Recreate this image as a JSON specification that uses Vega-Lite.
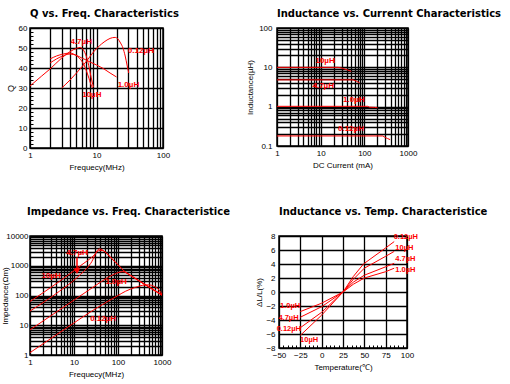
{
  "$schema": "https://vega.github.io/schema/vega-lite/v6.json",
  "background": "white",
  "padding": {"left": 0, "top": 8, "right": 0, "bottom": 0},
  "spacing": 34,
  "config": {
    "font": "Liberation Sans",
    "view": {"stroke": "black", "strokeWidth": 1.5},
    "axis": {
      "labelFont": "Liberation Sans", "labelFontSize": 8, "labelColor": "black",
      "titleFont": "Liberation Sans", "titleFontSize": 8, "titleFontWeight": "normal", "titleColor": "black",
      "domain": false, "gridColor": "black", "gridOpacity": 1, "gridWidth": 1.3,
      "tickColor": "black", "labelOverlap": false, "labelFlush": false, "ticks": false, "labelPadding": 3, "titlePadding": 4
    },
    "title": {"font": "DejaVu Sans", "fontSize": 10, "fontWeight": "bold", "anchor": "start", "color": "black", "frame": "group"},
    "text": {"font": "Liberation Sans", "fontSize": 8, "fontWeight": "bold", "color": "red", "align": "left", "baseline": "middle"},
    "line": {"color": "red", "strokeWidth": 1}
  },
  "datasets": {
    "q": [
      {"s": "4.7", "f": 1, "q": 31}, {"s": "4.7", "f": 1.5, "q": 36}, {"s": "4.7", "f": 2, "q": 39.5}, {"s": "4.7", "f": 3, "q": 45}, {"s": "4.7", "f": 4, "q": 48.2}, {"s": "4.7", "f": 5, "q": 49.8}, {"s": "4.7", "f": 5.7, "q": 50.3}, {"s": "4.7", "f": 6.5, "q": 48.5}, {"s": "4.7", "f": 7.3, "q": 44}, {"s": "4.7", "f": 8, "q": 38}, {"s": "4.7", "f": 8.6, "q": 33}, {"s": "4.7", "f": 9, "q": 30.5},
      {"s": "10", "f": 2, "q": 44.5}, {"s": "10", "f": 2.5, "q": 46}, {"s": "10", "f": 3, "q": 46.8}, {"s": "10", "f": 4, "q": 47.5}, {"s": "10", "f": 4.5, "q": 47}, {"s": "10", "f": 5.5, "q": 45}, {"s": "10", "f": 6.5, "q": 41.5}, {"s": "10", "f": 7.5, "q": 36}, {"s": "10", "f": 8.3, "q": 31.5}, {"s": "10", "f": 8.7, "q": 30},
      {"s": "1.0", "f": 2, "q": 42.5}, {"s": "1.0", "f": 2.5, "q": 44.5}, {"s": "1.0", "f": 3, "q": 45.8}, {"s": "1.0", "f": 4, "q": 47}, {"s": "1.0", "f": 5, "q": 46.3}, {"s": "1.0", "f": 6, "q": 45}, {"s": "1.0", "f": 7, "q": 44}, {"s": "1.0", "f": 8, "q": 43}, {"s": "1.0", "f": 10, "q": 41.5}, {"s": "1.0", "f": 13, "q": 39.5}, {"s": "1.0", "f": 16, "q": 37.5}, {"s": "1.0", "f": 20, "q": 35.5},
      {"s": "0.12", "f": 3, "q": 30}, {"s": "0.12", "f": 4, "q": 34}, {"s": "0.12", "f": 5, "q": 37.5}, {"s": "0.12", "f": 6, "q": 40.5}, {"s": "0.12", "f": 7.3, "q": 44}, {"s": "0.12", "f": 9, "q": 48}, {"s": "0.12", "f": 11, "q": 51}, {"s": "0.12", "f": 13, "q": 53}, {"s": "0.12", "f": 16, "q": 54.8}, {"s": "0.12", "f": 19, "q": 55.3}, {"s": "0.12", "f": 21, "q": 54.5}, {"s": "0.12", "f": 23, "q": 52.5}, {"s": "0.12", "f": 25, "q": 50}, {"s": "0.12", "f": 27, "q": 46}, {"s": "0.12", "f": 29, "q": 41}, {"s": "0.12", "f": 30.5, "q": 37.5}
    ],
    "ql": [
      {"label": "4.7µH", "f": 4.05, "q": 53},
      {"label": "0.12µH", "f": 29.6, "q": 48.7},
      {"label": "1.0µH", "f": 20.8, "q": 31.7},
      {"label": "10µH", "f": 6.1, "q": 26.7}
    ],
    "l": [
      {"s": "10", "i": 1, "l": 10}, {"s": "10", "i": 25, "l": 10}, {"s": "10", "i": 30, "l": 9.6}, {"s": "10", "i": 40, "l": 8.7}, {"s": "10", "i": 50, "l": 7.9},
      {"s": "4.7", "i": 1, "l": 4.8}, {"s": "4.7", "i": 55, "l": 4.8}, {"s": "4.7", "i": 65, "l": 4.5}, {"s": "4.7", "i": 78, "l": 4.0},
      {"s": "1.0", "i": 1, "l": 1.02}, {"s": "1.0", "i": 120, "l": 1.02}, {"s": "1.0", "i": 130, "l": 0.97}, {"s": "1.0", "i": 170, "l": 0.96}, {"s": "1.0", "i": 200, "l": 0.94},
      {"s": "0.12", "i": 1, "l": 0.18}, {"s": "0.12", "i": 265, "l": 0.18}, {"s": "0.12", "i": 300, "l": 0.165}, {"s": "0.12", "i": 340, "l": 0.155}, {"s": "0.12", "i": 390, "l": 0.145}
    ],
    "ll": [
      {"label": "10µH", "i": 7.6, "l": 14.3},
      {"label": "4.7µH", "i": 6.5, "l": 3.3},
      {"label": "1.0µH", "i": 32.4, "l": 1.44},
      {"label": "0.12µH", "i": 24.9, "l": 0.277}
    ],
    "z": [
      {"s": "10", "f": 1, "z": 63}, {"s": "10", "f": 4.7, "z": 300}, {"s": "10", "f": 14, "z": 1000}, {"s": "10", "f": 29, "z": 2300}, {"s": "10", "f": 36, "z": 3200}, {"s": "10", "f": 44, "z": 3250}, {"s": "10", "f": 50, "z": 2970}, {"s": "10", "f": 70, "z": 1810}, {"s": "10", "f": 100, "z": 1070}, {"s": "10", "f": 148, "z": 603}, {"s": "10", "f": 200, "z": 456}, {"s": "10", "f": 250, "z": 370}, {"s": "10", "f": 369, "z": 257}, {"s": "10", "f": 500, "z": 195}, {"s": "10", "f": 700, "z": 143}, {"s": "10", "f": 1000, "z": 104},
      {"s": "4.7", "f": 1, "z": 30}, {"s": "4.7", "f": 4.7, "z": 140}, {"s": "4.7", "f": 11.7, "z": 400}, {"s": "4.7", "f": 24, "z": 1200}, {"s": "4.7", "f": 38, "z": 3700}, {"s": "4.7", "f": 50, "z": 2990}, {"s": "4.7", "f": 70, "z": 1830}, {"s": "4.7", "f": 100, "z": 1085}, {"s": "4.7", "f": 148, "z": 610}, {"s": "4.7", "f": 200, "z": 462}, {"s": "4.7", "f": 250, "z": 376}, {"s": "4.7", "f": 369, "z": 262}, {"s": "4.7", "f": 500, "z": 199}, {"s": "4.7", "f": 700, "z": 146}, {"s": "4.7", "f": 1000, "z": 106},
      {"s": "1.0", "f": 1, "z": 7}, {"s": "1.0", "f": 3, "z": 21}, {"s": "1.0", "f": 10, "z": 70}, {"s": "1.0", "f": 30, "z": 210}, {"s": "1.0", "f": 60, "z": 410}, {"s": "1.0", "f": 100, "z": 585}, {"s": "1.0", "f": 125, "z": 635}, {"s": "1.0", "f": 150, "z": 600}, {"s": "1.0", "f": 200, "z": 450}, {"s": "1.0", "f": 250, "z": 365}, {"s": "1.0", "f": 369, "z": 253}, {"s": "1.0", "f": 500, "z": 192}, {"s": "1.0", "f": 700, "z": 140}, {"s": "1.0", "f": 1000, "z": 101},
      {"s": "0.12", "f": 1, "z": 1.2}, {"s": "0.12", "f": 3, "z": 3.6}, {"s": "0.12", "f": 10, "z": 12}, {"s": "0.12", "f": 30, "z": 35}, {"s": "0.12", "f": 100, "z": 100}, {"s": "0.12", "f": 150, "z": 140}, {"s": "0.12", "f": 250, "z": 188}, {"s": "0.12", "f": 400, "z": 225}, {"s": "0.12", "f": 500, "z": 228}, {"s": "0.12", "f": 650, "z": 205}, {"s": "0.12", "f": 800, "z": 170}, {"s": "0.12", "f": 1000, "z": 112}
    ],
    "zl": [
      {"label": "4.7µH", "f": 6.7, "z": 2750},
      {"label": "10µH", "f": 1.82, "z": 463},
      {"label": "1.0µH", "f": 51.7, "z": 278},
      {"label": "0.12µH", "f": 23.3, "z": 15.8}
    ],
    "arrow": [{"f": 11.7, "z": 1900, "z2": 700}],
    "arrowhead": [{"f": 11.7, "z": 660}],
    "t": [
      {"s": "0.12", "t": -25, "d": -5.1}, {"s": "0.12", "t": 0, "d": -2.9}, {"s": "0.12", "t": 25, "d": 0}, {"s": "0.12", "t": 37, "d": 2.2}, {"s": "0.12", "t": 49, "d": 4.0}, {"s": "0.12", "t": 75, "d": 6.3}, {"s": "0.12", "t": 85, "d": 7.2},
      {"s": "10", "t": -25, "d": -6.2}, {"s": "10", "t": 0, "d": -3.3}, {"s": "10", "t": 25, "d": 0}, {"s": "10", "t": 37, "d": 1.8}, {"s": "10", "t": 50, "d": 3.4}, {"s": "10", "t": 75, "d": 5.1}, {"s": "10", "t": 85, "d": 5.8},
      {"s": "4.7", "t": -25, "d": -3.6}, {"s": "4.7", "t": 0, "d": -2.1}, {"s": "4.7", "t": 25, "d": 0}, {"s": "4.7", "t": 37, "d": 1.4}, {"s": "4.7", "t": 50, "d": 2.4}, {"s": "4.7", "t": 75, "d": 3.6}, {"s": "4.7", "t": 85, "d": 4.1},
      {"s": "1.0", "t": -25, "d": -2.8}, {"s": "1.0", "t": 0, "d": -1.6}, {"s": "1.0", "t": 25, "d": 0}, {"s": "1.0", "t": 37, "d": 1.1}, {"s": "1.0", "t": 50, "d": 2.0}, {"s": "1.0", "t": 75, "d": 2.9}, {"s": "1.0", "t": 85, "d": 3.4}
    ],
    "tl": [
      {"label": "0.12µH", "t": 84.4, "d": 7.86},
      {"label": "10µH", "t": 86.3, "d": 6.29},
      {"label": "4.7µH", "t": 86.3, "d": 4.66},
      {"label": "1.0µH", "t": 86.3, "d": 3.09},
      {"label": "1.0µH", "t": -48.8, "d": -2.06},
      {"label": "4.7µH", "t": -50.7, "d": -3.71},
      {"label": "0.12µH", "t": -52.7, "d": -5.24},
      {"label": "10µH", "t": -25.3, "d": -6.91}
    ]
  },
  "vconcat": [
    {
      "spacing": 65,
      "hconcat": [
        {
          "width": 133, "height": 120,
          "title": {"text": "Q vs. Freq. Characteristics", "offset": 5},
          "layer": [
            {
              "data": {"name": "q"},
              "mark": {"type": "line", "interpolate": "monotone"},
              "encoding": {
                "x": {"field": "f", "type": "quantitative",
                  "scale": {"type": "log", "domain": [1, 100]},
                  "axis": {"title": "Frequecy(MHz)", "values": [1,2,3,4,5,6,7,8,9,10,20,30,40,50,60,70,80,90,100], "format": "~g", "labelOverlap": false,
                    "labelExpr": "indexof([1,10,100], datum.value) >= 0 ? datum.label : ''"}},
                "y": {"field": "q", "type": "quantitative",
                  "scale": {"domain": [0, 60]},
                  "axis": {"title": "Q", "titleFontSize": 9, "titlePadding": 3, "tickCount": 100, "format": "d", "values": [0,2,4,6,8,10,12,14,16,18,20,22,24,26,28,30,32,34,36,38,40,42,44,46,48,50,52,54,56,58,60], "labelOverlap": false,
                    "labelExpr": "datum.value % 10 === 0 ? datum.label : ''",
                    "gridOpacity": {"condition": {"test": "datum.value % 10 === 0", "value": 1}, "value": 0},
                    "ticks": true, "tickSize": -3, "labelPadding": 6}},
                "detail": {"field": "s"}
              }
            },
            {
              "data": {"name": "ql"},
              "mark": {"type": "text"},
              "encoding": {
                "x": {"field": "f", "type": "quantitative"},
                "y": {"field": "q", "type": "quantitative"},
                "text": {"field": "label"}
              }
            }
          ]
        },
        {
          "width": 131, "height": 118,
          "title": {"text": "Inductance vs. Currennt Characteristics", "offset": 5},
          "layer": [
            {
              "data": {"name": "l"},
              "mark": {"type": "line"},
              "encoding": {
                "x": {"field": "i", "type": "quantitative",
                  "scale": {"type": "log", "domain": [1, 1000]},
                  "axis": {"title": "DC Current (mA)", "values": [1,2,3,4,5,6,7,8,9,10,20,30,40,50,60,70,80,90,100,200,300,400,500,600,700,800,900,1000], "format": "~g", "labelOverlap": false,
                    "labelExpr": "indexof([1,10,100,1000], datum.value) >= 0 ? datum.label : ''"}},
                "y": {"field": "l", "type": "quantitative",
                  "scale": {"type": "log", "domain": [0.1, 100]},
                  "axis": {"title": "Inductance(µH)", "values": [0.1,0.2,0.3,0.4,0.5,0.6,0.7,0.8,0.9,1,2,3,4,5,6,7,8,9,10,20,30,40,50,60,70,80,90,100], "format": "~g", "labelOverlap": false,
                    "labelExpr": "indexof([0.1,1,10,100], datum.value) >= 0 ? datum.label : ''", "labelPadding": 5}},
                "detail": {"field": "s"}
              }
            },
            {
              "data": {"name": "ll"},
              "mark": {"type": "text"},
              "encoding": {
                "x": {"field": "i", "type": "quantitative"},
                "y": {"field": "l", "type": "quantitative"},
                "text": {"field": "label"}
              }
            }
          ]
        }
      ]
    },
    {
      "spacing": 24,
      "hconcat": [
        {
          "width": 132, "height": 119,
          "title": {"text": "Impedance vs. Freq. Characteristice", "offset": 15, "dx": -3},
          "layer": [
            {
              "data": {"name": "z"},
              "mark": {"type": "line", "interpolate": "monotone"},
              "encoding": {
                "x": {"field": "f", "type": "quantitative",
                  "scale": {"type": "log", "domain": [1, 1000]},
                  "axis": {"title": "Frequecy(MHz)", "values": [1,2,3,4,5,6,7,8,9,10,20,30,40,50,60,70,80,90,100,200,300,400,500,600,700,800,900,1000], "format": "~g", "labelOverlap": false,
                    "labelExpr": "indexof([1,10,100,1000], datum.value) >= 0 ? datum.label : ''"}},
                "y": {"field": "z", "type": "quantitative",
                  "scale": {"type": "log", "domain": [1, 10000]},
                  "axis": {"title": "Impedance(Ωm)", "titleX": -21, "values": [1,2,3,4,5,6,7,8,9,10,20,30,40,50,60,70,80,90,100,200,300,400,500,600,700,800,900,1000,2000,3000,4000,5000,6000,7000,8000,9000,10000], "format": "~g", "labelOverlap": false,
                    "labelExpr": "indexof([1,10,100,1000,10000], datum.value) >= 0 ? datum.label : ''", "labelPadding": 2}},
                "detail": {"field": "s"}
              }
            },
            {
              "data": {"name": "zl"},
              "mark": {"type": "text"},
              "encoding": {
                "x": {"field": "f", "type": "quantitative"},
                "y": {"field": "z", "type": "quantitative"},
                "text": {"field": "label"}
              }
            },
            {
              "data": {"name": "arrow"},
              "mark": {"type": "rule", "color": "red", "strokeWidth": 1.5},
              "encoding": {
                "x": {"field": "f", "type": "quantitative"},
                "y": {"field": "z", "type": "quantitative"},
                "y2": {"field": "z2"}
              }
            },
            {
              "data": {"name": "arrowhead"},
              "mark": {"type": "point", "shape": "triangle-down", "filled": true, "color": "red", "size": 45, "opacity": 1},
              "encoding": {
                "x": {"field": "f", "type": "quantitative"},
                "y": {"field": "z", "type": "quantitative"}
              }
            }
          ]
        },
        {
          "width": 128, "height": 112,
          "title": {"text": "Inductance vs. Temp. Characteristice", "offset": 15},
          "layer": [
            {
              "data": {"name": "t"},
              "mark": {"type": "line"},
              "encoding": {
                "x": {"field": "t", "type": "quantitative",
                  "scale": {"domain": [-50, 100], "nice": false},
                  "axis": {"title": "Temperature(℃)", "tickCount": 100, "format": "d", "values": [-50,-45,-40,-35,-30,-25,-20,-15,-10,-5,0,5,10,15,20,25,30,35,40,45,50,55,60,65,70,75,80,85,90,95,100], "labelOverlap": false,
                    "labelExpr": "datum.value % 25 === 0 ? datum.label : ''",
                    "gridOpacity": {"condition": {"test": "datum.value % 25 === 0", "value": 1}, "value": 0},
                    "ticks": true, "tickSize": -3, "labelPadding": 6}},
                "y": {"field": "d", "type": "quantitative",
                  "scale": {"domain": [-8, 8], "nice": false},
                  "axis": {"title": "ΔL/L(%)", "tickCount": 100, "format": "d", "values": [-8,-6,-4,-2,0,2,4,6,8], "labelOverlap": false, "labelPadding": 4, "titlePadding": 2}},
                "detail": {"field": "s"}
              }
            },
            {
              "data": {"name": "tl"},
              "mark": {"type": "text", "fontSize": 7.5},
              "encoding": {
                "x": {"field": "t", "type": "quantitative"},
                "y": {"field": "d", "type": "quantitative"},
                "text": {"field": "label"}
              }
            }
          ]
        }
      ]
    }
  ]
}
